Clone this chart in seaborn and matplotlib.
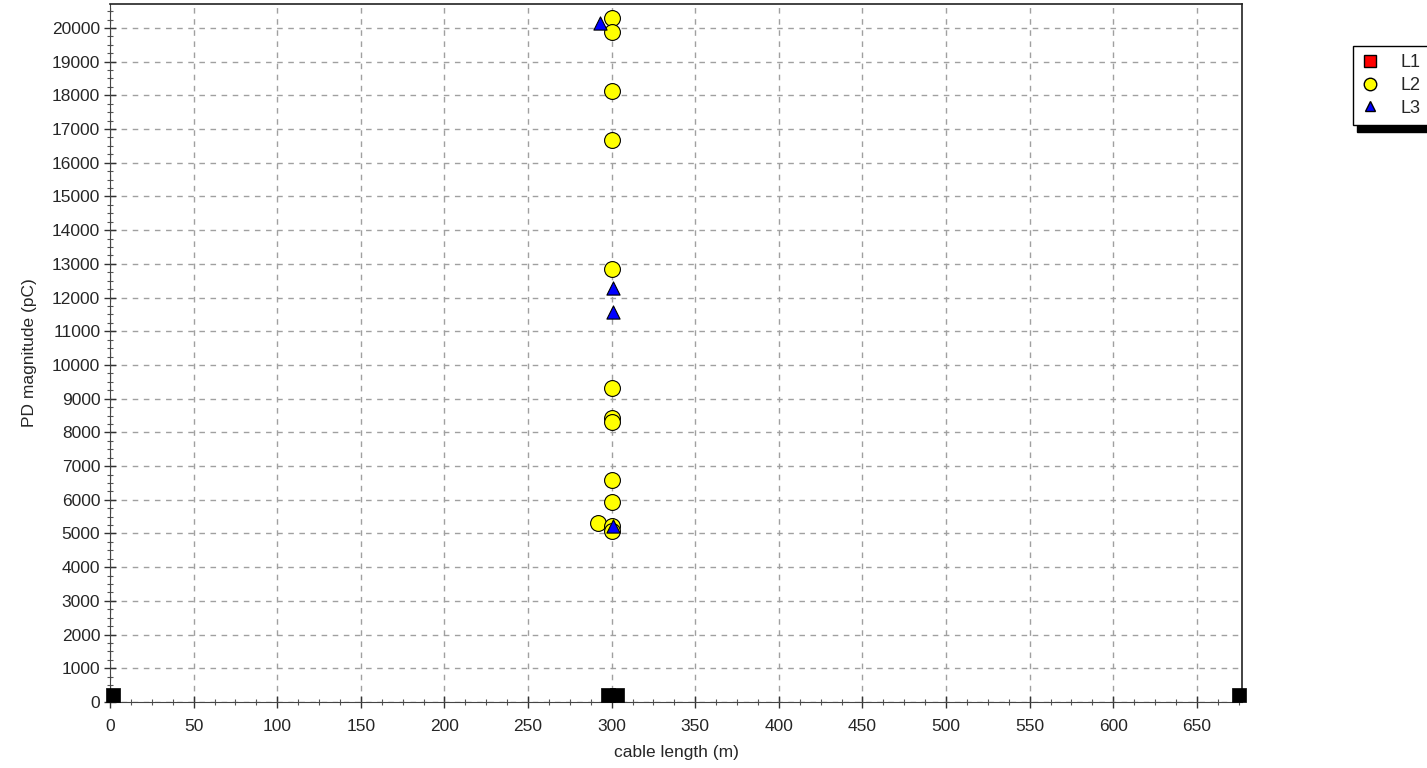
import matplotlib
matplotlib.use("Agg")
import matplotlib.pyplot as plt
from matplotlib.lines import Line2D
from matplotlib.ticker import MultipleLocator
import pandas as pd
import seaborn as sns

# PD events per phase (cable length in m, magnitude in pC)
l2_x = [300, 300, 300, 300, 300, 300, 300, 300, 300, 300, 292, 300, 300]
l2_y = [20300, 19880, 18130, 16670, 12850, 9330, 8420, 8300, 6590, 5940, 5310, 5220, 5080]
l3_x = [293, 301, 301, 301]
l3_y = [20150, 12270, 11580, 5230]
# cable ends / joint markers along the bottom
joint_x = [2, 298, 303, 675]
joint_y = [210, 210, 210, 210]

sns.set_style("white")
plt.rcParams['font.family'] = ['Liberation Sans', 'DejaVu Sans']

df2 = pd.DataFrame({"x": l2_x, "y": l2_y})
df3 = pd.DataFrame({"x": l3_x, "y": l3_y})
dfj = pd.DataFrame({"x": joint_x, "y": joint_y})

fig = plt.figure(figsize=(14.27, 7.68), dpi=100)
ax = fig.add_axes([110 / 1427, 1 - 702 / 768, (1242 - 110) / 1427, (702 - 4) / 768])

ax.grid(True, which="major", color="#a0a0a0", linestyle=(0, (4, 4)), linewidth=1)
ax.set_axisbelow(True)

sns.scatterplot(data=dfj, x="x", y="y", marker="s", s=105, color="black",
                edgecolor="black", linewidth=0.5, ax=ax, clip_on=False, zorder=4)
sns.scatterplot(data=df2, x="x", y="y", marker="o", s=130, color="#ffff00",
                edgecolor="black", linewidth=0.8, ax=ax, zorder=5)
sns.scatterplot(data=df3, x="x", y="y", marker="^", s=90, color="#0000ff",
                edgecolor="black", linewidth=0.8, ax=ax, zorder=6)

ax.set_xlim(0, 677)
ax.set_ylim(0, 20710)
ax.xaxis.set_major_locator(MultipleLocator(50))
ax.xaxis.set_minor_locator(MultipleLocator(12.5))
ax.yaxis.set_major_locator(MultipleLocator(1000))
ax.yaxis.set_minor_locator(MultipleLocator(250))
ax.tick_params(which="major", direction="inout", length=8, width=1, color="#333333",
               labelsize=12.5)
ax.tick_params(axis="x", which="major", pad=8)
ax.tick_params(axis="y", which="major", pad=3)
ax.tick_params(which="minor", direction="inout", length=5, width=0.8, color="#555555")
ax.tick_params(axis="both", which="both", bottom=True, left=True)

for side in ["left", "bottom"]:
    ax.spines[side].set_color("#444444")
for side in ["top", "right"]:
    ax.spines[side].set_color("#222222")
    ax.spines[side].set_linewidth(1.2)

ax.set_xlabel("cable length (m)", fontsize=12.5, labelpad=8)
ax.set_ylabel("PD magnitude (pC)", fontsize=12.5, labelpad=11)

handles = [
    Line2D([], [], linestyle="none", marker="s", markersize=8, markerfacecolor="#ff0000",
           markeredgecolor="black", label="L1"),
    Line2D([], [], linestyle="none", marker="o", markersize=9, markerfacecolor="#ffff00",
           markeredgecolor="black", label="L2"),
    Line2D([], [], linestyle="none", marker="^", markersize=7, markerfacecolor="#0000ff",
           markeredgecolor="black", label="L3"),
]
leg = fig.legend(handles=handles, loc="upper left", bbox_to_anchor=(1353 / 1427, 1 - 46 / 768),
                 frameon=True, fancybox=False, shadow={"color": "black", "alpha": 1, "ox": 3, "oy": -5},
                 borderpad=0.45, labelspacing=0.32, handlelength=1.0, handletextpad=1.2,
                 fontsize=13, borderaxespad=0)
leg.get_frame().set_edgecolor("black")
leg.get_frame().set_linewidth(1)

fig.savefig("out.png", dpi=100)
